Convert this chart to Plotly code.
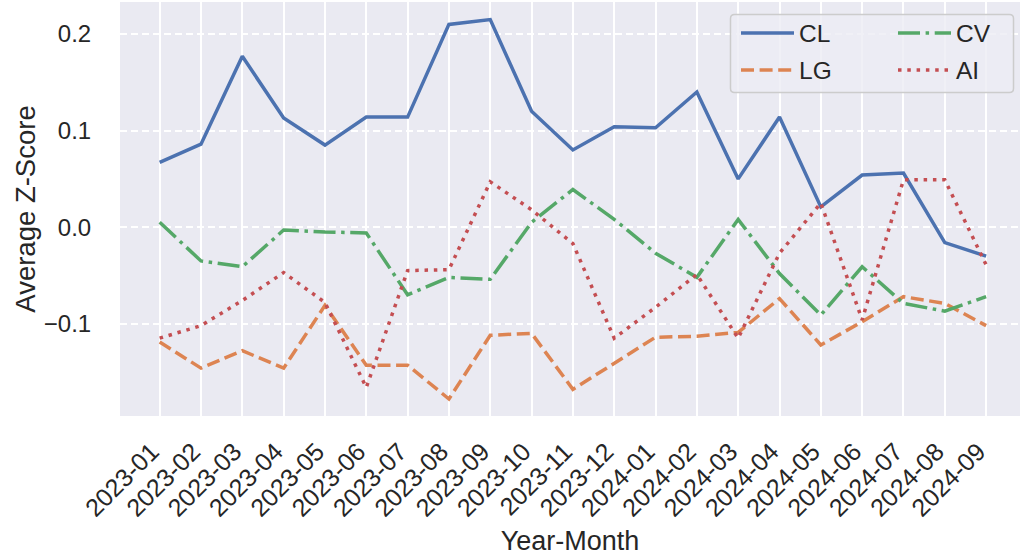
import plotly.graph_objects as go

months = ["2023-01", "2023-02", "2023-03", "2023-04", "2023-05", "2023-06", "2023-07",
          "2023-08", "2023-09", "2023-10", "2023-11", "2023-12", "2024-01", "2024-02",
          "2024-03", "2024-04", "2024-05", "2024-06", "2024-07", "2024-08", "2024-09"]

cl = [0.067, 0.086, 0.177, 0.113, 0.085, 0.114, 0.114, 0.210, 0.215, 0.120, 0.080,
      0.104, 0.103, 0.140, 0.050, 0.114, 0.021, 0.054, 0.056, -0.016, -0.030]
lg = [-0.119, -0.146, -0.128, -0.146, -0.081, -0.143, -0.143, -0.178, -0.112, -0.110,
      -0.168, -0.141, -0.114, -0.113, -0.109, -0.074, -0.122, -0.098, -0.072, -0.079, -0.102]
cv = [0.005, -0.035, -0.041, -0.003, -0.005, -0.006, -0.070, -0.052, -0.054, 0.005,
      0.039, 0.008, -0.027, -0.052, 0.008, -0.048, -0.091, -0.041, -0.079, -0.087, -0.072]
ai = [-0.115, -0.102, -0.076, -0.047, -0.078, -0.166, -0.045, -0.044, 0.047, 0.018,
      -0.017, -0.115, -0.083, -0.049, -0.115, -0.027, 0.025, -0.096, 0.049, 0.049, -0.039]

series_names = ["CL", "LG", "CV", "AI"]
series_values = [cl, lg, cv, ai]
colors = ["#4C72B0", "#DD8452", "#55A868", "#C44E52"]
dashes = ["solid", "13px,5.6px", "22px,5.6px,3.5px,5.6px", "3.5px,5.8px"]
legend_ids = ["legend", "legend3", "legend2", "legend4"]

ytick_vals = [-0.1, 0.0, 0.1, 0.2]
ytick_text = ["\u22120.1", "0.0", "0.1", "0.2"]

FONT = "Liberation Sans, Arial, sans-serif"
TXT = "#262626"

fig = go.Figure()
for name, vals, col, dash, lid in zip(series_names, series_values, colors, dashes, legend_ids):
    fig.add_trace(go.Scatter(
        x=months, y=vals, mode="lines", name=name,
        line=dict(color=col, width=3.5, dash=dash),
        legend=lid, showlegend=True, hoverinfo="skip",
    ))

L, R, T, B = 120, 0, 2, 140
W, H = 1020, 556
pw, ph = W - L - R, H - T - B


def px_x(x):
    return (x - L) / pw


def px_y(y):
    return 1 - (y - T) / ph


leg_common = dict(font=dict(family=FONT, size=24.5, color=TXT), bgcolor="rgba(0,0,0,0)",
                  borderwidth=0, itemwidth=53, xanchor="left", yanchor="middle",
                  tracegroupgap=0, itemclick=False, itemdoubleclick=False)

fig.update_layout(
    width=W, height=H,
    showlegend=True,
    margin=dict(l=L, r=R, t=T, b=B, pad=0),
    paper_bgcolor="white",
    plot_bgcolor="#EAEAF2",
    font=dict(family=FONT, size=24, color=TXT),
    legend=dict(x=px_x(736), y=px_y(33), **leg_common),
    legend2=dict(x=px_x(893), y=px_y(33), **leg_common),
    legend3=dict(x=px_x(736), y=px_y(70), **leg_common),
    legend4=dict(x=px_x(893), y=px_y(70), **leg_common),
    xaxis=dict(
        type="category",
        range=[-0.96, 20.82],
        showgrid=True, gridcolor="white", gridwidth=2,
        zeroline=False, showline=False, ticks="",
        tickangle=-45, tickfont=dict(size=25, color=TXT),
        ticklabelstandoff=15, ticklabelshift=-8,
        title=dict(text="Year-Month", font=dict(size=27, color=TXT), standoff=14),
        automargin=False,
    ),
    yaxis=dict(
        range=[-0.1956, 0.2332],
        tickvals=ytick_vals, ticktext=ytick_text,
        showgrid=True, gridcolor="white", gridwidth=1.8, griddash="7px,4px",
        zeroline=False, showline=False,
        ticks="outside", ticklen=23, tickcolor="rgba(0,0,0,0)",
        tickfont=dict(size=24, color=TXT),
        title=dict(text="Average Z-Score", font=dict(size=27.5, color=TXT), standoff=0),
        automargin=False,
    ),
)

# legend frame (rounded rectangle) in paper coordinates
x0, x1, y0, y1, r = 730.5, 1013.5, 14.5, 92.5, 4
path = (f"M{px_x(x0 + r)},{px_y(y0)} L{px_x(x1 - r)},{px_y(y0)} "
        f"Q{px_x(x1)},{px_y(y0)} {px_x(x1)},{px_y(y0 + r)} "
        f"L{px_x(x1)},{px_y(y1 - r)} Q{px_x(x1)},{px_y(y1)} {px_x(x1 - r)},{px_y(y1)} "
        f"L{px_x(x0 + r)},{px_y(y1)} Q{px_x(x0)},{px_y(y1)} {px_x(x0)},{px_y(y1 - r)} "
        f"L{px_x(x0)},{px_y(y0 + r)} Q{px_x(x0)},{px_y(y0)} {px_x(x0 + r)},{px_y(y0)} Z")
fig.add_shape(type="path", xref="paper", yref="paper", path=path,
              fillcolor="rgba(236,236,244,0.8)", line=dict(color="#CCCCCC", width=1.5),
              layer="above")

fig.write_html("out.html", config={"displayModeBar": False},
               post_script="document.body.style.margin='0';document.body.style.overflow='hidden';")
